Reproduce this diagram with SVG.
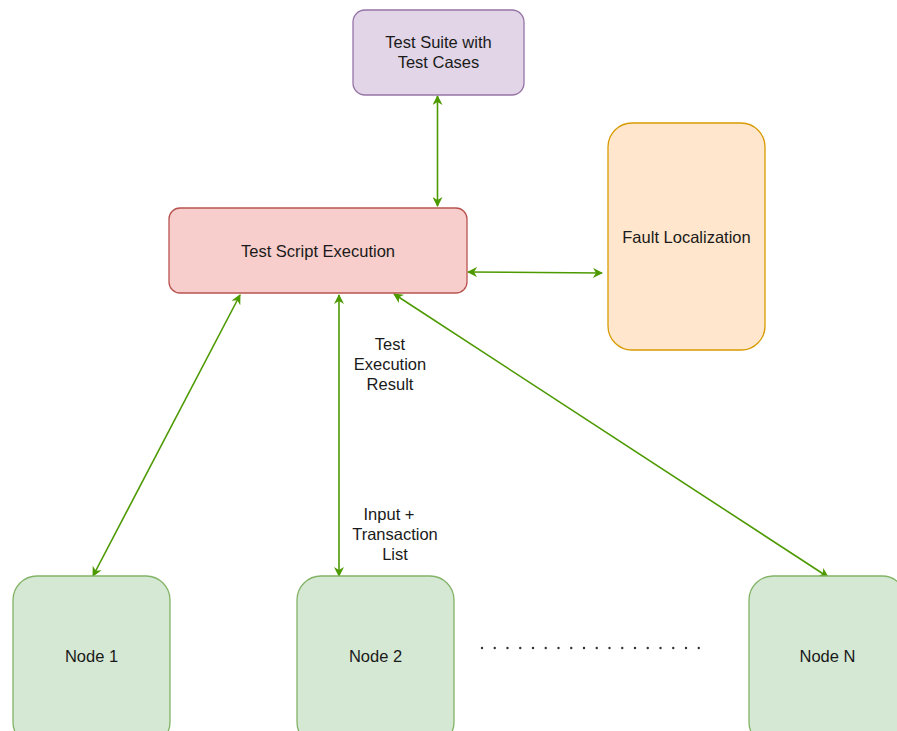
<svg xmlns="http://www.w3.org/2000/svg" width="897" height="731" viewBox="0 0 897 731">
  <style>
    .lbl { font-family: "Liberation Sans", Arial, sans-serif; font-size: 16.5px; fill: #1a1a1a; text-anchor: middle; }
    .edge { stroke: #4d9900; stroke-width: 1.6; fill: none; marker-start: url(#arrowStart); marker-end: url(#arrowEnd); }
    .green { fill: #d5e8d4; stroke: #82b366; stroke-width: 1.3; }
  </style>
  <defs>
    <marker id="arrowEnd" viewBox="0 0 10 10" refX="9" refY="5" markerWidth="10" markerHeight="10" markerUnits="userSpaceOnUse" orient="auto">
      <path d="M0,0 L10,5 L0,10 L3,5 Z" fill="#4d9900"/>
    </marker>
    <marker id="arrowStart" viewBox="0 0 10 10" refX="1" refY="5" markerWidth="10" markerHeight="10" markerUnits="userSpaceOnUse" orient="auto">
      <path d="M10,0 L0,5 L10,10 L7,5 Z" fill="#4d9900"/>
    </marker>
  </defs>
  <rect width="897" height="731" fill="#ffffff"/>

  <g id="connectors">
    <line class="edge" x1="437.5" y1="96" x2="437.5" y2="206"/>
    <line class="edge" x1="468" y1="272" x2="602" y2="273"/>
    <line class="edge" x1="240" y1="295" x2="93" y2="576"/>
    <line class="edge" x1="339" y1="295" x2="339" y2="576"/>
    <line class="edge" x1="394" y1="294" x2="828" y2="577"/>
  </g>

  <g id="test-suite">
    <rect x="353" y="10" width="171" height="85" rx="12" fill="#e1d5e7" stroke="#9673a6" stroke-width="1.3"/>
    <text class="lbl" x="438.5" y="48">Test Suite with</text>
    <text class="lbl" x="438.5" y="68">Test Cases</text>
  </g>

  <g id="test-script-execution">
    <rect x="169" y="208" width="298" height="85" rx="11" fill="#f8cecc" stroke="#b85450" stroke-width="1.3"/>
    <text class="lbl" x="318" y="257">Test Script Execution</text>
  </g>

  <g id="fault-localization">
    <rect x="608" y="123" width="157" height="227" rx="24" fill="#ffe6cc" stroke="#d79b00" stroke-width="1.3"/>
    <text class="lbl" x="686.5" y="243">Fault Localization</text>
  </g>

  <g id="label-result">
    <text class="lbl" x="390" y="350">Test</text>
    <text class="lbl" x="390" y="370">Execution</text>
    <text class="lbl" x="390" y="390">Result</text>
  </g>

  <g id="label-input">
    <text class="lbl" x="389" y="520">Input +</text>
    <text class="lbl" x="395" y="540">Transaction</text>
    <text class="lbl" x="395" y="560">List</text>
  </g>

  <g id="node-1">
    <rect class="green" x="13" y="576" width="157" height="170" rx="24"/>
    <text class="lbl" x="91.5" y="662">Node 1</text>
  </g>

  <g id="node-2">
    <rect class="green" x="297" y="576" width="157" height="170" rx="24"/>
    <text class="lbl" x="375.5" y="662">Node 2</text>
  </g>

  <g id="ellipsis">
    <line x1="482" y1="648" x2="700" y2="648" stroke="#333333" stroke-width="2.4" stroke-linecap="round" stroke-dasharray="0 12.75"/>
  </g>

  <g id="node-n">
    <rect class="green" x="749" y="576" width="157" height="170" rx="24"/>
    <text class="lbl" x="827.5" y="662">Node N</text>
  </g>
</svg>
